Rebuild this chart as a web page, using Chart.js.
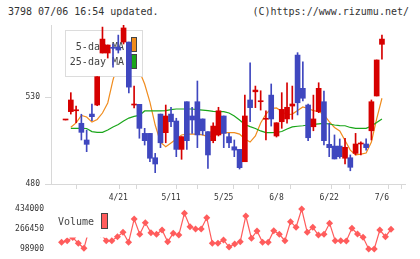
<!DOCTYPE html>
<html><head><meta charset="utf-8">
<script src="https://cdn.jsdelivr.net/npm/chart.js@4.4.0/dist/chart.umd.min.js"></script>
<style>
html,body{margin:0;padding:0;background:#fff;width:420px;height:259px;overflow:hidden}
.hd{position:absolute;top:6px;font:10px "DejaVu Sans Mono",monospace;line-height:12px;color:#333;white-space:pre}
canvas{position:absolute;left:0}
</style></head><body>
<div class="hd" style="left:8px">3798 07/06 16:54 updated.</div>
<div class="hd" style="right:11px">(C)https://www.rizumu.net/</div>
<canvas id="main" width="420" height="206" style="top:0"></canvas>
<canvas id="vol" width="420" height="59" style="top:200px"></canvas>
<script>
const dates = ['4/7','4/8','4/9','4/10','4/13','4/14','4/15','4/16','4/17','4/20',
 '4/21','4/22','4/23','4/24','4/27','4/28','4/30','5/1','5/7','5/8',
 '5/11','5/12','5/13','5/14','5/15','5/18','5/19','5/20','5/21','5/22',
 '5/25','5/26','5/27','5/28','5/29','6/1','6/2','6/3','6/4','6/5',
 '6/8','6/9','6/10','6/11','6/12','6/15','6/16','6/17','6/18','6/19',
 '6/22','6/23','6/24','6/25','6/26','6/29','6/30','7/1','7/2','7/3','7/6'];
const openP = [516.8,521.6,522.1,514.9,505.3,520.2,525.4,555.3,555.3,558.4,
 558.7,561.6,561.6,525.4,525.8,509.1,509.1,495.1,520.2,509.5,
 520.2,516.2,499.9,527.3,519.1,527.3,517.4,510.1,504.9,508.2,
 519.1,507.2,501.4,499.9,492.8,528.3,533.0,527.3,517.2,531.1,
 507.6,515.8,517.4,524.8,554.1,535.0,525.4,512.9,521.6,527.3,
 502.8,501.8,501.8,494.8,495.1,497.6,503.0,503.0,510.6,530.6,560.3];
const highP = [516.8,532.5,524.8,520.1,511.0,526.0,541.7,570.2,559.9,560.5,
 565.6,571.4,561.6,536.3,525.8,512.0,509.1,497.6,520.2,525.4,
 524.1,517.8,507.2,527.3,524.1,539.2,517.4,510.1,515.2,524.1,
 519.1,509.1,505.3,499.9,531.1,549.7,536.3,533.6,522.1,537.5,
 515.2,532.5,538.2,536.3,555.5,550.3,526.0,531.1,538.2,533.4,
 514.9,508.2,505.9,506.3,496.7,509.1,504.3,505.9,528.3,551.3,565.6];
const lowP = [516.8,520.2,515.2,505.3,498.6,516.4,525.0,555.3,552.4,547.2,
 555.3,560.5,532.3,523.7,506.3,502.4,492.8,486.5,500.9,503.7,
 512.9,495.7,494.2,499.9,509.1,500.9,508.2,489.0,503.7,507.6,
 500.9,500.9,495.7,488.6,492.8,515.8,523.9,522.5,505.3,513.3,
 507.0,512.0,514.9,517.2,519.7,527.7,504.9,510.6,521.0,502.4,
 495.7,494.4,494.8,491.5,487.6,496.7,496.7,499.5,505.3,530.6,551.8];
const closeP = [516.8,528.3,522.1,509.7,502.8,518.7,541.7,563.3,559.9,558.0,
 557.0,569.7,535.7,525.4,512.0,504.9,494.8,491.5,503.7,519.1,
 515.8,499.9,507.2,504.9,516.8,508.2,510.6,496.7,513.3,522.1,
 509.1,503.7,499.5,489.4,519.1,523.9,534.0,527.3,517.2,517.4,
 515.2,522.9,524.1,526.0,526.7,529.3,506.6,517.4,535.0,504.9,
 500.9,494.4,495.7,501.1,489.6,503.0,503.0,500.9,527.3,551.3,563.3];
const ma5 = [null,512.6,515.1,519.4,518.5,515.6,517.1,520.8,526.6,539.8,
 550,557,559,554,545,537.5,527.1,513.9,504.1,501.4,
 503.6,505.9,508.2,508.7,508.7,508.7,508.2,507.2,507.6,508.7,
 509.5,509.5,509.5,508.7,505.9,504.1,507.6,515.1,520.2,523.4,
 523.7,521.7,519.7,520.2,522.2,524.3,523.4,522.2,521.7,519.9,
 515.8,512.5,510.5,505.0,499.5,496.7,497.2,497.8,504.1,517.4,529.3];
const ma25 = [null,512.0,512.0,512.0,511.9,510.1,509.7,509.7,511.0,512.8,
 514.2,516.2,517.9,518.9,519.4,522.0,522.0,522.0,522.0,522.2,
 522.8,523.1,523.1,523.1,523.1,522.8,522.5,522.2,521.7,521.6,
 521.6,520.8,519.1,516.8,514.2,513.0,511.9,510.5,509.5,509.5,
 509.6,510.2,511.6,512.8,513.2,513.5,513.9,514.3,514.6,514.9,
 514.5,513.9,513.6,513.5,512.5,512.0,512.0,512.0,513.3,515.3,517.4];
const volume = [null,155000,168500,195000,146700,104800,274800,300000,224600,168500,
 168500,202000,238800,155000,350200,222000,319200,235400,222000,258100,
 160100,230400,216200,398000,285700,266400,266400,361100,146700,146700,
 174300,115000,140800,160100,375400,188500,249700,155000,155000,252200,
 222000,168500,327600,280700,434000,238800,280700,216200,222000,314200,
 168500,168500,165900,272300,224600,196900,98900,98900,258100,202000,263900];
const priceTicks = [480, 530];
const volumeTicks = [98900, 266450, 434000];
const legendNames = ['5-day MA', '25-day MA'];

const UP = '#d60000', DOWN = '#3f47bf', MA5C = '#f08c1e', MA25C = '#1aa61a', VOLC = '#ff5c5c';
const X_MIN = -0.8956, X_MAX = 62.507;
const FONT = '"DejaVu Sans Mono", monospace';
const AXIS = '#d8d8d8', TXT = '#333';
Chart.defaults.font.family = FONT;

const idx = dates.map((d, i) => i);
const candleColor = idx.map(i => closeP[i] >= openP[i] ? UP : DOWN);

const mainLegend = {
  id: 'mainLegend',
  afterDatasetDraw(chart, args) {
    if (chart.data.datasets[args.index].key !== 'ma25') return;
    const ctx = chart.ctx, a = chart.chartArea;
    const L = a.left + 14, T = a.top + 5;
    ctx.save();
    ctx.fillStyle = '#fff';
    ctx.fillRect(L, T, 78, 47);
    ctx.strokeStyle = '#dcdcdc'; ctx.lineWidth = 1;
    ctx.strokeRect(L + 0.5, T + 0.5, 77, 46);
    ctx.font = '10px ' + FONT; ctx.fillStyle = '#444';
    ctx.textAlign = 'right'; ctx.textBaseline = 'middle';
    ctx.fillText(legendNames[0], L + 59, T + 17.5);
    ctx.fillText(legendNames[1], L + 59, T + 32.5);
    ctx.fillStyle = MA5C; ctx.fillRect(L + 66.5, T + 7.5, 5, 14);
    ctx.fillStyle = MA25C; ctx.fillRect(L + 66.5, T + 24.5, 5, 14);
    ctx.strokeStyle = '#444';
    ctx.strokeRect(L + 66.5, T + 7.5, 5, 14);
    ctx.strokeRect(L + 66.5, T + 24.5, 5, 14);
    ctx.restore();
  }
};

new Chart(document.getElementById('main'), {
  type: 'bar',
  data: { datasets: [
    { type: 'line', key: 'ma5', data: idx.map(i => ({x: i, y: ma5[i]})), borderColor: MA5C, borderWidth: 1.2, pointRadius: 0, order: 10, spanGaps: false },
    { type: 'line', key: 'ma25', data: idx.map(i => ({x: i, y: ma25[i]})), borderColor: MA25C, borderWidth: 1.2, pointRadius: 0, order: 9, spanGaps: false },
    { type: 'bar', key: 'wick', data: idx.map(i => ({x: i, y: [lowP[i], highP[i]]})), backgroundColor: candleColor, barThickness: 1, grouped: false, order: 2 },
    { type: 'bar', key: 'body', data: idx.map(i => ({x: i, y: [openP[i], closeP[i]]})), backgroundColor: candleColor, barThickness: 5, minBarLength: 1, grouped: false, order: 1 }
  ]},
  options: {
    responsive: false, animation: false, devicePixelRatio: 1,
    layout: { padding: { top: 25, right: 15, left: 0, bottom: 0 } },
    plugins: { legend: { display: false }, tooltip: { enabled: false } },
    scales: {
      x: {
        type: 'linear', min: X_MIN, max: X_MAX,
        afterBuildTicks: s => {
          const t = [];
          const step = (X_MAX - X_MIN) / 11;
          for (let k = 0; k <= 11; k++) t.push({ value: X_MIN + k * step });
          dates.forEach((d, i) => { if (i > 0 && i % 10 === 0) t.push({ value: i, lbl: d }); });
          t.sort((a, b) => a.value - b.value);
          s.ticks = t;
        },
        afterFit: s => { s.height = 22; s.paddingLeft = 0; s.paddingRight = 0; },
        grid: { drawOnChartArea: false, drawTicks: true, tickLength: 5,
          color: c => (c.tick && c.tick.lbl) ? 'rgba(0,0,0,0)' : AXIS },
        border: { display: true, color: AXIS },
        ticks: { autoSkip: false, maxRotation: 0, padding: 4, color: TXT, font: { family: FONT, size: 8 },
          callback: (v, i, ticks) => ticks[i].lbl || '' }
      },
      y: {
        type: 'linear', min: 480, max: 571.4,
        afterBuildTicks: s => { s.ticks = priceTicks.map(v => ({ value: v })); },
        afterFit: s => { s.width = 51; s.paddingTop = 0; s.paddingBottom = 0; },
        grid: { drawOnChartArea: false, drawTicks: true, tickLength: 6, color: AXIS },
        border: { display: true, color: AXIS },
        ticks: { padding: 5, color: TXT, font: { family: FONT, size: 8 }, callback: v => String(v) }
      }
    }
  },
  plugins: [mainLegend]
});

const volLegend = {
  id: 'volLegend',
  afterDatasetsDraw(chart) {
    const ctx = chart.ctx, a = chart.chartArea;
    ctx.save();
    ctx.fillStyle = '#fff';
    ctx.fillRect(a.left + 3, a.top - 3, 55, 31.5);
    ctx.font = '10px ' + FONT; ctx.fillStyle = '#444';
    ctx.textAlign = 'left'; ctx.textBaseline = 'middle';
    ctx.fillText('Volume', a.left + 7, a.top + 13.5);
    ctx.fillStyle = VOLC; ctx.fillRect(a.left + 50.5, a.top + 4.5, 6, 15);
    ctx.strokeStyle = '#444'; ctx.lineWidth = 1;
    ctx.strokeRect(a.left + 50.5, a.top + 4.5, 6, 15);
    ctx.restore();
  }
};

new Chart(document.getElementById('vol'), {
  type: 'line',
  data: { datasets: [{
    data: idx.map(i => ({x: i, y: volume[i]})), borderColor: VOLC, backgroundColor: VOLC,
    borderWidth: 1.2, pointStyle: 'rectRot', pointRadius: 3.5, pointBorderWidth: 0,
    clip: false, spanGaps: false
  }]},
  options: {
    responsive: false, animation: false, devicePixelRatio: 1,
    layout: { padding: { top: 9, right: 15, bottom: 10, left: 0 } },
    plugins: { legend: { display: false }, tooltip: { enabled: false } },
    scales: {
      x: { type: 'linear', min: X_MIN, max: X_MAX, display: false },
      y: {
        type: 'linear', min: 98900, max: 434000,
        afterBuildTicks: s => { s.ticks = volumeTicks.map(v => ({ value: v })); },
        afterFit: s => { s.width = 51; s.paddingTop = 0; s.paddingBottom = 0; },
        grid: { display: false, drawTicks: false },
        border: { display: false },
        ticks: { padding: 7, color: TXT, font: { family: FONT, size: 8 }, callback: v => String(v) }
      }
    }
  },
  plugins: [volLegend]
});
</script>
</body></html>
